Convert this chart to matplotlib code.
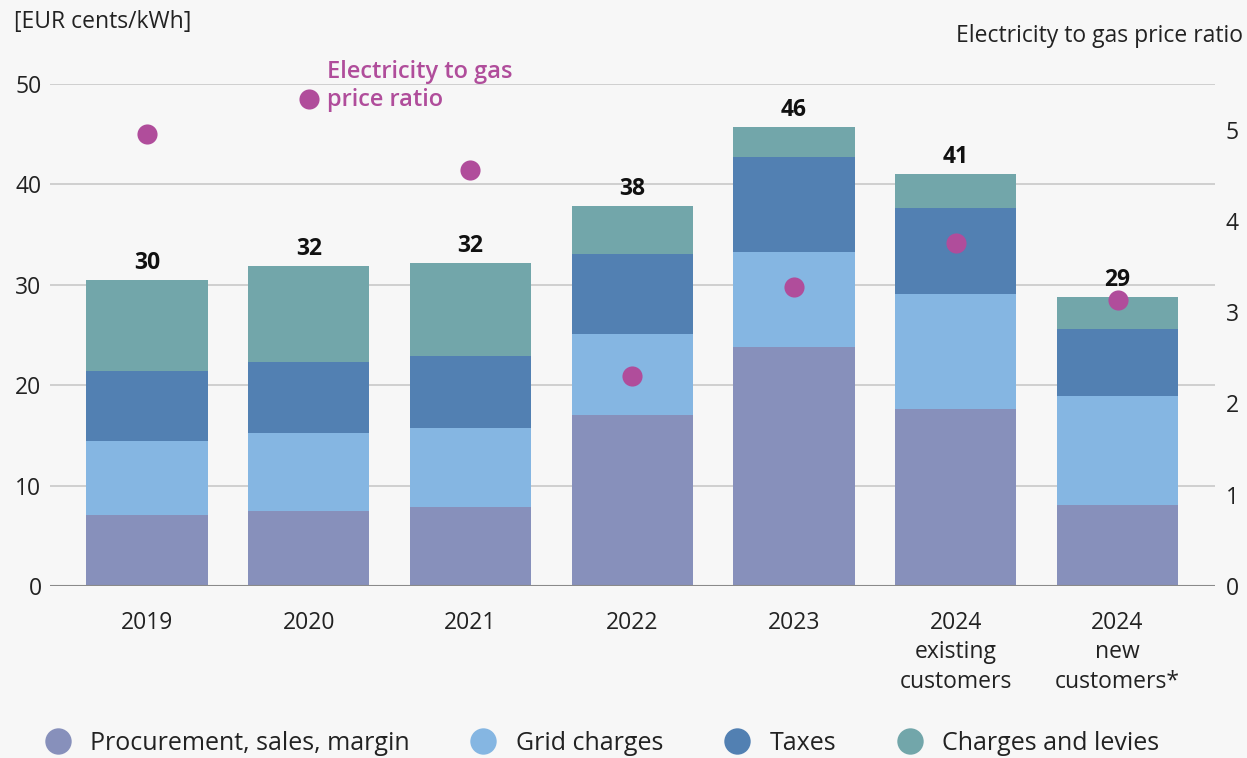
import numpy as np
import matplotlib.pyplot as plt
from matplotlib.lines import Line2D

plt.rcParams['font.family'] = ['Open Sans', 'DejaVu Sans']

# Household electricity price components [EUR cents/kWh]
categories = ['2019', '2020', '2021', '2022', '2023',
              '2024\nexisting\ncustomers', '2024\nnew\ncustomers*']
procurement = [7.1, 7.5, 7.9, 17.0, 23.8, 17.6, 8.1]
grid = [7.3, 7.7, 7.8, 8.1, 9.5, 11.5, 10.8]
taxes = [7.0, 7.1, 7.2, 8.0, 9.4, 8.6, 6.7]
levies = [9.1, 9.6, 9.3, 4.8, 3.0, 3.3, 3.2]
totals = [30, 32, 32, 38, 46, 41, 29]
# electricity to gas price ratio (right axis)
ratio = [4.95, 5.34, 4.56, 2.30, 3.28, 3.76, 3.13]

series_names = ['Procurement, sales, margin', 'Grid charges', 'Taxes',
                'Charges and levies']
colors = ['#8790bb', '#85b6e2', '#5280b2', '#72a6aa']
ratio_color = '#b04d9b'
bg = '#f7f7f7'
text_color = '#222222'
fs = 16.5

fig = plt.figure(figsize=(12.47, 7.58), dpi=100, facecolor=bg)
ax = fig.add_axes([0.040, 0.227, 0.934, 0.662], facecolor=bg)

x = np.arange(len(categories))
bottom = np.zeros(len(categories))
for vals, col in zip([procurement, grid, taxes, levies], colors):
    ax.bar(x, vals, width=0.75, bottom=bottom, color=col, zorder=2)
    bottom += np.array(vals)

for xi, top, t in zip(x, bottom, totals):
    ax.text(xi, top + 0.5, str(t), ha='center', va='bottom',
            fontsize=fs, fontweight='bold', color='#111111')

ax.set_xlim(-0.6, 6.6)
ax.set_ylim(0, 50)
ax.set_yticks(range(0, 51, 10))
ax.grid(axis='y', color='#cccccc', linewidth=1.3, zorder=0)
ax.set_axisbelow(True)
for s in ax.spines.values():
    s.set_visible(False)
ax.axhline(0, color='#8a8a8a', linewidth=1.5, zorder=3)
ax.set_xticks(x)
ax.set_xticklabels(categories, linespacing=1.3)
ax.tick_params(axis='x', length=0, pad=18, labelsize=fs, labelcolor=text_color)
ax.tick_params(axis='y', length=0, pad=6, labelsize=fs, labelcolor=text_color)

ax2 = ax.twinx()
ax2.set_ylim(0, 5.5)
ax2.set_yticks(range(0, 6))
ax2.tick_params(axis='y', length=0, pad=8, labelsize=fs, labelcolor=text_color)
for s in ax2.spines.values():
    s.set_visible(False)
ax2.scatter(x, ratio, s=210, color=ratio_color, zorder=5, clip_on=False,
            linewidths=0)
ax2.annotate('Electricity to gas\nprice ratio', xy=(x[1], ratio[1]),
             xytext=(13, -5), textcoords='offset points', ha='left',
             va='baseline', fontsize=fs + 0.5, color=ratio_color,
             fontweight='semibold', linespacing=1.2)

fig.text(0.011, 0.971, '[EUR cents/kWh]', ha='left', va='center',
         fontsize=fs, color=text_color)
fig.text(0.997, 0.953, 'Electricity to gas price ratio', ha='right',
         va='center', fontsize=fs, color=text_color)

handles = [Line2D([], [], marker='o', linestyle='none', markersize=19,
                  markerfacecolor=c, markeredgewidth=0) for c in colors]
fig.legend(handles, series_names, loc='center', bbox_to_anchor=(0.478, 0.019),
           ncol=4, frameon=False, fontsize=18, handletextpad=0.3,
           columnspacing=1.95, labelcolor=text_color)

fig.savefig('out.png', dpi=100, facecolor=bg)
